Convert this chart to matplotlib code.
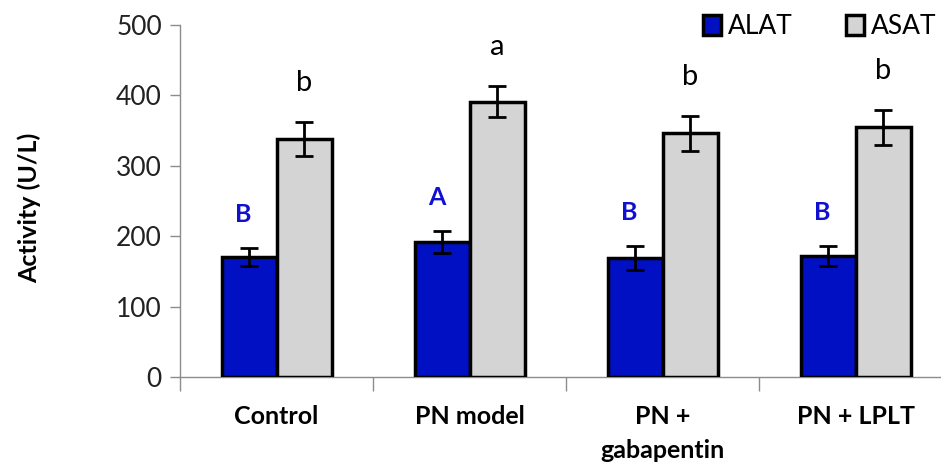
import numpy as np
import matplotlib
matplotlib.use("Agg")
import matplotlib.pyplot as plt

plt.rcParams['font.family'] = ['Lato', 'DejaVu Sans']

groups = ['Control', 'PN model', 'PN +\ngabapentin', 'PN + LPLT']
alat = [170, 192, 169, 172]
alat_err = [13, 16, 17, 14]
asat = [338, 391, 346, 355]
asat_err = [24, 22, 25, 25]
alat_letters = ['B', 'A', 'B', 'B']
asat_letters = ['b', 'a', 'b', 'b']

blue = '#0010C2'
grey = '#D4D4D4'

fig = plt.figure(figsize=(9.41, 4.74), dpi=100)
ax = fig.add_axes([0.1913, 0.2046, 0.8204, 0.7426])

x = np.arange(len(groups))
w = 0.285
err_kw = dict(ecolor='black', elinewidth=2, capsize=6.5, capthick=2)
b1 = ax.bar(x - w/2, alat, w, yerr=alat_err, color=blue, edgecolor='black',
            linewidth=2.5, error_kw=err_kw, label='ALAT', zorder=3)
b2 = ax.bar(x + w/2, asat, w, yerr=asat_err, color=grey, edgecolor='black',
            linewidth=2.5, error_kw=err_kw, label='ASAT', zorder=3)

for i in range(len(groups)):
    ax.annotate(alat_letters[i], (x[i] - w/2, alat[i] + alat_err[i]),
                xytext=(-4, 24), textcoords='offset points', ha='center',
                va='center', color='#1010D0', fontsize=18, fontweight='bold')
    ax.annotate(asat_letters[i], (x[i] + w/2, asat[i] + asat_err[i]),
                xytext=(0, 28), textcoords='offset points', ha='center',
                va='center', color='black', fontsize=21)

ax.set_xlim(-0.5, 3.5)
ax.set_ylim(0, 500)
ax.set_yticks([0, 100, 200, 300, 400, 500])
ax.set_xticks(x)
ax.set_xticklabels(groups, fontsize=18, fontweight='bold', linespacing=1.6)
ax.set_xticks(np.arange(-0.5, 4, 1), minor=True)
ax.tick_params(axis='x', which='major', length=0, pad=20)
ax.tick_params(axis='x', which='minor', length=10, width=1, color='#8c8c8c')
ax.tick_params(axis='y', labelsize=19, length=7, width=1, color='#8c8c8c',
               labelcolor='#222222', pad=6)
for lab in ax.get_xticklabels():
    lab.set_verticalalignment('top')

for s in ['top', 'right']:
    ax.spines[s].set_visible(False)
for s in ['left', 'bottom']:
    ax.spines[s].set_color('#8c8c8c')
    ax.spines[s].set_linewidth(1)

ax.set_ylabel('Activity (U/L)', fontsize=18, fontweight='bold')
ax.yaxis.set_label_coords(-0.18, 0.48)

leg = fig.legend(handles=[b1, b2], loc='upper right', bbox_to_anchor=(1.02, 1.02),
                 ncol=2, frameon=False, fontsize=19, handlelength=0.7,
                 handleheight=0.8, handletextpad=0.25, columnspacing=2.0)

fig.savefig('out.png', dpi=100)
